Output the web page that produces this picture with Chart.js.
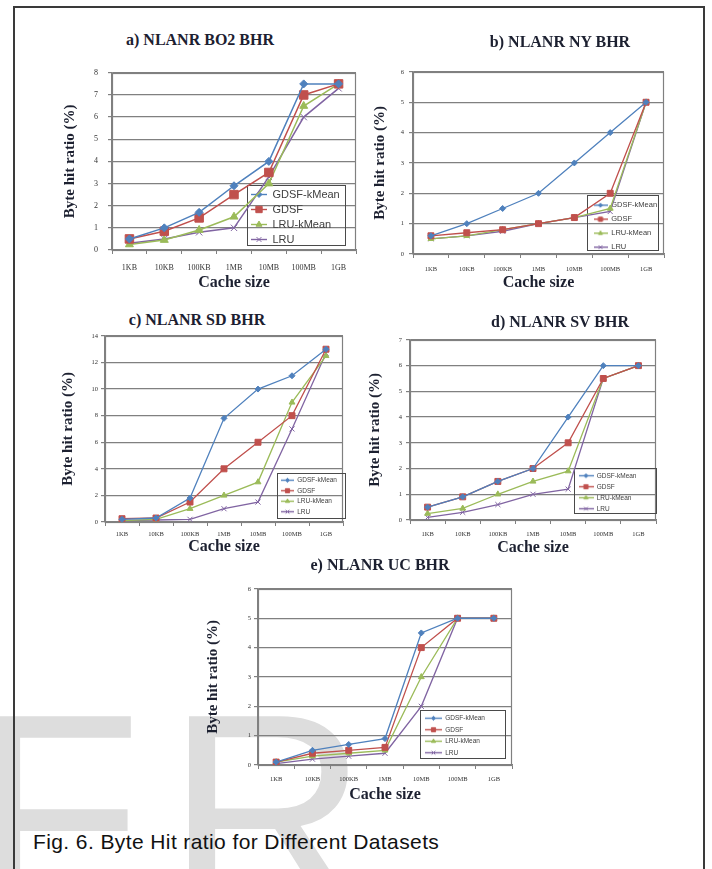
<!DOCTYPE html>
<html><head><meta charset="utf-8">
<script src="https://cdn.jsdelivr.net/npm/chart.js@4.4.0/dist/chart.umd.min.js"></script>
<style>
html,body{margin:0;padding:0;background:#fff;width:712px;height:869px;overflow:hidden;position:relative;}
.wm{position:absolute;left:-29px;top:672px;font-family:"Liberation Sans",Arial,sans-serif;font-size:280px;line-height:1;color:#dddddd;letter-spacing:24px;white-space:nowrap;z-index:0;}
.frame{position:absolute;left:13px;top:6px;width:692px;height:900px;box-sizing:border-box;border:2px solid #3a3a3a;border-bottom:none;z-index:1;}
.cw{position:absolute;z-index:2;}
.ptitle{position:absolute;transform:translate(-50%,-50%);font-family:"Liberation Serif","Times New Roman",serif;font-weight:bold;font-size:16px;color:#1c2030;white-space:nowrap;z-index:3;}
.caption{position:absolute;left:33px;top:830px;font-family:"Liberation Sans",Arial,sans-serif;font-size:21px;letter-spacing:0.4px;color:#111;white-space:nowrap;z-index:3;}
</style>
</head><body>
<div class="wm">FR</div>
<div class="frame"></div>
<div class="caption">Fig. 6. Byte Hit ratio for Different Datasets</div>
<script>
// ---------- data ----------
const cacheSizes = ['1KB','10KB','100KB','1MB','10MB','100MB','1GB'];
const seriesNames = ['GDSF-kMean','GDSF','LRU-kMean','LRU'];

const bo2GdsfKMean = [0.5, 1.0, 1.7, 2.9, 4.0, 7.5, 7.5];
const bo2Gdsf      = [0.5, 0.85, 1.45, 2.5, 3.5, 7.0, 7.5];
const bo2LruKMean  = [0.25, 0.45, 0.9, 1.5, 3.0, 6.5, 7.5];
const bo2Lru       = [0.3, 0.5, 0.8, 1.0, 3.3, 6.0, 7.3];

const nyGdsfKMean = [0.6, 1.0, 1.5, 2.0, 3.0, 4.0, 5.0];
const nyGdsf      = [0.6, 0.7, 0.8, 1.0, 1.2, 2.0, 5.0];
const nyLruKMean  = [0.5, 0.6, 0.8, 1.0, 1.2, 1.5, 5.0];
const nyLru       = [0.5, 0.6, 0.75, 1.0, 1.2, 1.4, 5.0];

const sdGdsfKMean = [0.2, 0.3, 1.8, 7.8, 10.0, 11.0, 13.0];
const sdGdsf      = [0.25, 0.3, 1.5, 4.0, 6.0, 8.0, 13.0];
const sdLruKMean  = [0.1, 0.2, 1.0, 2.0, 3.0, 9.0, 12.5];
const sdLru       = [0.1, 0.15, 0.2, 1.0, 1.5, 7.0, 12.7];

const svGdsfKMean = [0.5, 0.9, 1.5, 2.0, 4.0, 6.0, 6.0];
const svGdsf      = [0.5, 0.9, 1.5, 2.0, 3.0, 5.5, 6.0];
const svLruKMean  = [0.25, 0.45, 1.0, 1.5, 1.9, 5.5, 6.0];
const svLru       = [0.1, 0.3, 0.6, 1.0, 1.2, 5.5, 6.0];

const ucGdsfKMean = [0.1, 0.5, 0.7, 0.9, 4.5, 5.0, 5.0];
const ucGdsf      = [0.1, 0.4, 0.5, 0.6, 4.0, 5.0, 5.0];
const ucLruKMean  = [0.1, 0.3, 0.4, 0.5, 3.0, 5.0, 5.0];
const ucLru       = [0.05, 0.2, 0.3, 0.4, 2.0, 5.0, 5.0];

const panelTitles = ['a) NLANR BO2 BHR','b) NLANR NY BHR','c) NLANR SD BHR','d) NLANR SV BHR','e) NLANR UC BHR'];
const yAxisMax  = [8, 6, 14, 7, 6];
const yAxisStep = [1, 1, 2, 1, 1];
const xTitle = 'Cache size';
const yTitle = 'Byte hit ratio (%)';

// ---------- styling ----------
const colors = ['#4F81BD','#C0504D','#9BBB59','#8064A2'];
const markers = ['rectRot','rect','triangle','crossRot'];

const layouts = [
  {plot:[112,64,357,250], yTitleX:70,  xTitleY:283, title:[200,40], legend:[247,185,98,60], lgFont:11, lgPad:4, iconW:16, tickFont:8, yPad:10, xPad:9, big:true},
  {plot:[413,69,664,254], yTitleX:380, xTitleY:283, title:[560,42], legend:[587,195,71,55], lgFont:7.5, lgPad:6.5, iconW:14, tickFont:6.5, yPad:5, xPad:7},
  {plot:[105,335,343,522], yTitleX:68, xTitleY:547, title:[197,320], legend:[277,473,68,45], lgFont:6.5, lgPad:4, iconW:13, tickFont:6.5, yPad:3, xPad:4.5},
  {plot:[410,338,656,520], yTitleX:375, xTitleY:548, title:[560,322], legend:[574,468,82,45], lgFont:6.5, lgPad:4.5, iconW:15, tickFont:6.5, yPad:4, xPad:6.5},
  {plot:[258,588,512,765], yTitleX:213, xTitleY:795, title:[380,565], legend:[420,710,85,48], lgFont:6.5, lgPad:5, iconW:17, tickFont:6.5, yPad:3, xPad:6.5}
];

const panelData = [
  [bo2GdsfKMean, bo2Gdsf, bo2LruKMean, bo2Lru],
  [nyGdsfKMean, nyGdsf, nyLruKMean, nyLru],
  [sdGdsfKMean, sdGdsf, sdLruKMean, sdLru],
  [svGdsfKMean, svGdsf, svLruKMean, svLru],
  [ucGdsfKMean, ucGdsf, ucLruKMean, ucLru]
];

function markerRadius(i, big){
  const r = big ? [4, 6, 4.6, 4.5] : [3, 4.2, 3.4, 3.6];
  return r[i];
}

function makeIcon(color, style, w, h, r){
  const c = document.createElement('canvas');
  c.width = w; c.height = h;
  const ctx = c.getContext('2d');
  ctx.strokeStyle = color; ctx.lineWidth = 1.4;
  ctx.beginPath(); ctx.moveTo(0, h/2); ctx.lineTo(w, h/2); ctx.stroke();
  ctx.fillStyle = color; ctx.strokeStyle = color; ctx.lineWidth = 1;
  Chart.helpers.drawPoint(ctx, {pointStyle: style, rotation: 0, radius: r, borderWidth: 1}, w/2, h/2);
  return c;
}

const framePlugin = {
  id: 'plotFrame',
  beforeDraw(chart, args, opts){
    const lg = chart.legend;
    if (lg && opts.box){
      const [bx, by, bw, bh] = opts.box;
      lg.left = bx; lg.top = by; lg.width = bw; lg.height = 1000;
      lg.right = bx + bw; lg.bottom = by + 1000;
    }
  },
  beforeDatasetsDraw(chart, args, opts){
    const {ctx, chartArea: ca} = chart;
    ctx.save();
    ctx.strokeStyle = '#808080'; ctx.lineWidth = 1.2;
    ctx.strokeRect(Math.round(ca.left)+0.5, Math.round(ca.top)+0.5, Math.round(ca.width)-1, Math.round(ca.height));
    if (opts.box){
      const [bx, by, bw, bh] = opts.box;
      ctx.strokeStyle = '#4a4a4a'; ctx.lineWidth = 1;
      ctx.strokeRect(Math.round(bx)+0.5, Math.round(by)+0.5, bw, bh);
    }
    ctx.restore();
  }
};

layouts.forEach((L, p) => {
  const [px1, py1, px2, py2] = L.plot;
  const cl = L.yTitleX - 20;
  const ct = py1 - 6;
  const cr = px2 + 6;
  const cb = L.xTitleY + 14;
  const cw = cr - cl, ch = cb - ct;
  const yW = px1 - cl, xH = cb - py2;

  const wrap = document.createElement('div');
  wrap.className = 'cw';
  wrap.style.left = cl + 'px'; wrap.style.top = ct + 'px';
  wrap.style.width = cw + 'px'; wrap.style.height = ch + 'px';
  const cv = document.createElement('canvas');
  cv.width = cw; cv.height = ch;
  cv.style.width = cw + 'px'; cv.style.height = ch + 'px';
  wrap.appendChild(cv);
  document.body.appendChild(wrap);

  const t = document.createElement('div');
  t.className = 'ptitle';
  t.textContent = panelTitles[p];
  t.style.left = L.title[0] + 'px'; t.style.top = L.title[1] + 'px';
  document.body.appendChild(t);

  const datasets = panelData[p].map((vals, i) => ({
    label: seriesNames[i],
    data: vals,
    borderColor: colors[i],
    backgroundColor: colors[i],
    pointBackgroundColor: colors[i],
    pointBorderColor: colors[i],
    pointStyle: markers[i],
    pointRadius: markerRadius(i, L.big),
    pointBorderWidth: 1,
    borderWidth: L.big ? 1.5 : 1.3,
    tension: 0,
    fill: false
  }));

  const lgBox = [L.legend[0] - cl, L.legend[1] - ct, L.legend[2], L.legend[3]];
  const iconH = Math.ceil(L.lgFont + 2);

  new Chart(cv, {
    type: 'line',
    data: {labels: cacheSizes, datasets},
    options: {
      responsive: false,
      animation: false,
      devicePixelRatio: 1,
      layout: {padding: {top: 6, right: 6, left: 0, bottom: 0}},
      plugins: {
        title: {display: false},
        tooltip: {enabled: false},
        legend: {
          display: true,
          position: 'chartArea',
          align: 'start',
          labels: {
            usePointStyle: true,
            pointStyleWidth: L.iconW,
            padding: L.lgPad,
            color: '#404040',
            font: {family: "'Liberation Sans', Arial, sans-serif", size: L.lgFont},
            generateLabels: (chart) => chart.data.datasets.map((ds, i) => ({
              text: ds.label,
              pointStyle: makeIcon(ds.borderColor, ds.pointStyle, L.iconW, iconH, L.big ? markerRadius(i, true) * 0.75 : markerRadius(i, false) * 0.7),
              fillStyle: ds.borderColor,
              strokeStyle: ds.borderColor,
              lineWidth: 0,
              hidden: false,
              fontColor: '#404040',
              datasetIndex: i
            }))
          }
        },
        plotFrame: {box: lgBox}
      },
      scales: {
        x: {
          type: 'category',
          offset: true,
          afterFit: (s) => { s.height = xH; },
          grid: {display: true, drawOnChartArea: false, drawTicks: true, tickLength: 4, offset: true, color: '#808080'},
          border: {display: true, color: '#808080', width: 1.2},
          ticks: {color: '#333', padding: L.xPad, maxRotation: 0, autoSkip: false,
                  font: {family: "'Liberation Serif', 'Times New Roman', serif", size: L.tickFont}},
          title: {display: true, text: xTitle, color: '#1c2030', padding: {top: 0, bottom: 4.4},
                  font: {family: "'Liberation Serif', 'Times New Roman', serif", size: 16, weight: 'bold', lineHeight: 1.2}}
        },
        y: {
          min: 0, max: yAxisMax[p],
          afterFit: (s) => { s.width = yW; },
          grid: {color: '#808080', lineWidth: 1.2, drawTicks: true, tickLength: 4},
          border: {display: true, color: '#808080', width: 1.2},
          ticks: {stepSize: yAxisStep[p], color: '#333', padding: L.yPad,
                  font: {family: "'Liberation Serif', 'Times New Roman', serif", size: L.tickFont}},
          title: {display: true, text: yTitle, color: '#1c2030', padding: {top: 11, bottom: 0},
                  font: {family: "'Liberation Serif', 'Times New Roman', serif", size: 15, weight: 'bold', lineHeight: 1.2}}
        }
      }
    },
    plugins: [framePlugin]
  });
});
</script>
</body></html>
